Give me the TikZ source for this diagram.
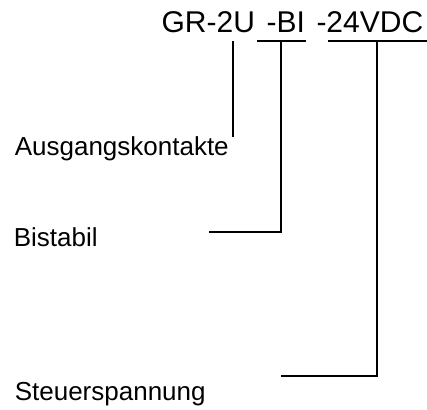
\documentclass[tikz,border=0pt]{standalone}
\usepackage{fontspec}
\setmainfont{Liberation Sans}
\usetikzlibrary{positioning}

\begin{document}
\begin{tikzpicture}[x=1pt,y=-1pt,line width=1.6pt]
		\useasboundingbox (0,0) rectangle (427,409);
		\tikzset{TypeStyle/.style = {inner sep=0pt,font=\fontsize{30}{36}\selectfont}}
		\tikzset{LabelStyle/.style = {inner sep=0pt,anchor=base west,font=\fontsize{26}{31}\selectfont}}
		% type code
		\node[TypeStyle,anchor=base east] (vdc) at (424,33) {-24VDC};
		\node[TypeStyle,base left=10pt of vdc] (bi) {-BI};
		\node[TypeStyle,base left=10pt of bi] (gr) {GR-2U};
		% meaning of the parts
		\node[LabelStyle] (aus) at (14,155) {Ausgangskontakte};
		\node[LabelStyle] (bist) at (13,246) {Bistabil};
		\node[LabelStyle] (steuer) at (14,400) {Steuerspannung};
		%\draw[help lines] (0,0) grid[step=50] (427,409);
		\coordinate (gr-top) at (233,41);
		\coordinate (aus-end) at (233,137);
		\coordinate (bi-l) at (257,41);
		\coordinate (bi-r) at (306,41);
		\coordinate (bi-top) at (281,41);
		\coordinate (bi-end) at (209,232);
		\coordinate (vdc-l) at (328,41);
		\coordinate (vdc-r) at (427,41);
		\coordinate (vdc-top) at (377,41);
		\coordinate (vdc-end) at (281,376);
		\draw (gr-top) -- (aus-end);
		\draw (bi-l) -- (bi-r);
		\draw (bi-top) |- (bi-end);
		\draw (vdc-l) -- (vdc-r);
		\draw (vdc-top) |- (vdc-end);
	\end{tikzpicture}
\end{document}
